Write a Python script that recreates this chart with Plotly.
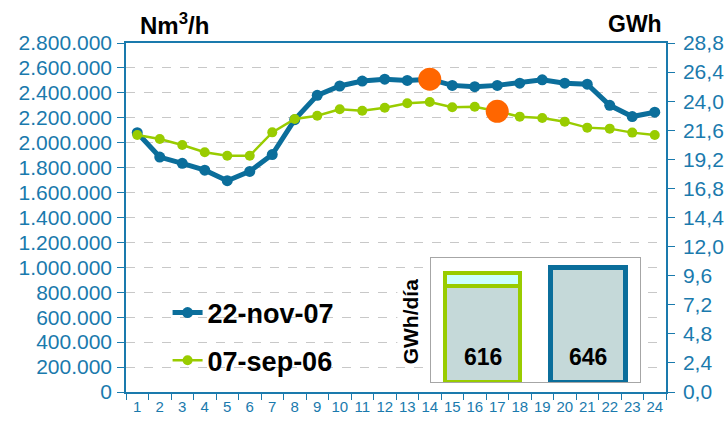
import plotly.graph_objects as go

# ---- data ----
hours = [str(h) for h in range(1, 25)]
nov07 = [2080000, 1885000, 1835000, 1780000, 1695000, 1770000, 1905000, 2185000,
         2380000, 2455000, 2495000, 2510000, 2500000, 2510000, 2460000, 2450000,
         2460000, 2478000, 2505000, 2478000, 2470000, 2300000, 2210000, 2245000]
sep06 = [2062000, 2030000, 1982000, 1923000, 1896000, 1896000, 2083000, 2190000,
         2217000, 2268000, 2257000, 2281000, 2316000, 2327000, 2284000, 2289000,
         2252000, 2209000, 2198000, 2169000, 2121000, 2113000, 2081000, 2062000]
series_names = ["22-nov-07", "07-sep-06"]
peak_hours = ["14", "17"]
peak_values = [nov07[13], sep06[16]]

left_ticks = list(range(0, 2800001, 200000))
right_ticks = [0, 2.4, 4.8, 7.2, 9.6, 12.0, 14.4, 16.8, 19.2, 21.6, 24.0, 26.4, 28.8]
right_labels = ["0,0", "2,4", "4,8", "7,2", "9,6", "12,0", "14,4", "16,8", "19,2",
                "21,6", "24,0", "26,4", "28,8"]

daily_cats = ["A: 07-sep-06", "B: 22-nov-07"]
daily_totals = [616, 646]
sep06_lower = 545  # lower segment of the 07-sep-06 daily bar
sep06_upper = daily_totals[0] - sep06_lower

BLUE = "#0B6E9B"
GREEN = "#99CC00"
ORANGE = "#FF6600"
AXIS = "#1A7AAD"
FONT = "Liberation Sans, Arial, sans-serif"

fig = go.Figure()

fig.add_trace(go.Scatter(
    x=hours, y=nov07, name=series_names[0], mode="lines+markers",
    line=dict(color=BLUE, width=5), marker=dict(color=BLUE, size=11),
    legend="legend", xaxis="x", yaxis="y"))
fig.add_trace(go.Scatter(
    x=hours, y=sep06, name=series_names[1], mode="lines+markers",
    line=dict(color=GREEN, width=2.5), marker=dict(color=GREEN, size=10),
    legend="legend2", xaxis="x", yaxis="y"))
fig.add_trace(go.Scatter(
    x=peak_hours, y=peak_values, mode="markers", showlegend=False,
    marker=dict(color=ORANGE, size=23), xaxis="x", yaxis="y"))

# invisible trace to activate right axis
fig.add_trace(go.Scatter(x=hours[:1], y=[0], mode="markers", showlegend=False,
                         marker=dict(opacity=0), hoverinfo="skip",
                         xaxis="x", yaxis="y2"))

# inset daily bars
fig.add_trace(go.Bar(x=[daily_cats[0]], y=[sep06_lower], width=0.71, showlegend=False,
                     marker=dict(color="#C5D9D9", line=dict(color=GREEN, width=4)),
                     xaxis="x3", yaxis="y3"))
fig.add_trace(go.Bar(x=[daily_cats[0]], y=[sep06_upper], width=0.71, showlegend=False,
                     marker=dict(color="#CCFFFF", line=dict(color=GREEN, width=4)),
                     xaxis="x3", yaxis="y3"))
fig.add_trace(go.Bar(x=[daily_cats[1]], y=[daily_totals[1]], width=0.71, showlegend=False,
                     marker=dict(color="#C5D9D9", line=dict(color=BLUE, width=5)),
                     xaxis="x3", yaxis="y3"))

annotations = [
    dict(text="<b>Nm<sup>3</sup>/h</b>", x=0.0907, y=1.054, xref="paper", yref="paper",
         xanchor="center", yanchor="middle", showarrow=False,
         font=dict(size=24, color="black", family=FONT)),
    dict(text="<b>GWh</b>", x=0.943, y=1.054, xref="paper", yref="paper",
         xanchor="center", yanchor="middle", showarrow=False,
         font=dict(size=23, color="black", family=FONT)),
    dict(text="<b>GWh/día</b>", x=0.527, y=0.2014, xref="paper", yref="paper",
         xanchor="center", yanchor="middle",
         textangle=-90, showarrow=False, bgcolor="white",
         font=dict(size=21, color="black", family=FONT)),
]
for c, v in zip(daily_cats, daily_totals):
    annotations.append(dict(text=f"<b>{v}</b>", x=c, y=143, xref="x3", yref="y3",
                            xanchor="center", yanchor="middle", showarrow=False,
                            font=dict(size=23, color="black", family=FONT)))

fig.update_layout(
    width=728, height=423,
    margin=dict(l=126, r=62, t=43, b=31, autoexpand=False),
    paper_bgcolor="white", plot_bgcolor="white",
    separators=",.",
    barmode="stack",
    font=dict(family=FONT, color=AXIS),
    xaxis=dict(type="category", tickson="boundaries", ticks="outside", ticklen=6,
               tickcolor=AXIS, showline=True, linecolor=AXIS, linewidth=1.5,
               mirror=True, showgrid=False, tickfont=dict(size=15, color=AXIS),
               tickangle=0, range=[-0.5, 23.5], anchor="y", domain=[0, 1],
               automargin=False),
    yaxis=dict(range=[0, 2800000], tickvals=left_ticks, tickformat=",d",
               ticks="outside", ticklen=7, tickcolor=AXIS, showline=True,
               linecolor=AXIS, linewidth=1.5, showgrid=True, gridcolor="#C8C8C8",
               griddash="dash", gridwidth=1, zeroline=False,
               tickfont=dict(size=21, color=AXIS), ticklabelstandoff=1,
               automargin=False),
    yaxis2=dict(range=[0, 28.8], tickvals=right_ticks, ticktext=right_labels,
                overlaying="y", side="right", ticks="outside", ticklen=7,
                tickcolor=AXIS, showline=True, linecolor=AXIS, linewidth=1.5,
                showgrid=False, zeroline=False, tickfont=dict(size=21, color=AXIS),
                ticklabelstandoff=4, automargin=False),
    xaxis3=dict(type="category", domain=[0.5643, 0.9519], anchor="y3",
                range=[-0.491, 1.493],
                showticklabels=False, ticks="", showgrid=False, showline=True,
                mirror=True, linecolor="#A6A6A6", linewidth=1, zeroline=False),
    yaxis3=dict(domain=[0.0278, 0.3831], anchor="x3", range=[0, 700],
                showticklabels=False, ticks="", showgrid=False, showline=True,
                mirror=True, linecolor="#A6A6A6", linewidth=1, zeroline=False),
    legend=dict(x=0.077, y=0.2264, xanchor="left", yanchor="middle",
                bgcolor="rgba(0,0,0,0)", borderwidth=0,
                font=dict(size=27, color="black", family=FONT, weight="bold")),
    legend2=dict(x=0.077, y=0.0897, xanchor="left", yanchor="middle",
                 bgcolor="rgba(0,0,0,0)", borderwidth=0,
                 font=dict(size=27, color="black", family=FONT, weight="bold")),
    annotations=annotations,
)

fig.write_html("out.html", config={"displayModeBar": False},
               post_script="document.body.style.margin='0px';")
